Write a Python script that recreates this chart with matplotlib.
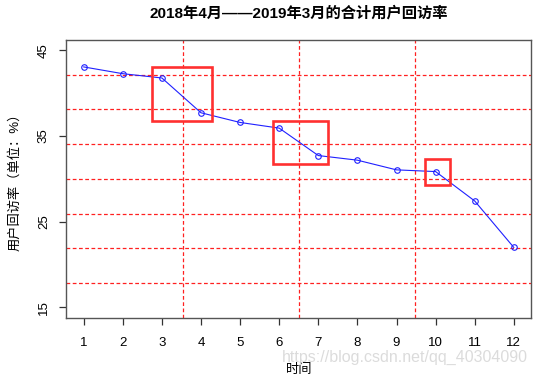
"""Monthly user revisit rate, Apr 2018 - Mar 2019."""
import matplotlib
matplotlib.use("Agg")
import matplotlib.pyplot as plt
from matplotlib.patches import Rectangle

plt.rcParams["font.family"] = ["Liberation Sans", "Noto Sans CJK SC", "DejaVu Sans"]

months = list(range(1, 13))
revisit_rate = [43.06, 42.27, 41.77, 37.71, 36.58, 35.92,
                32.72, 32.18, 31.05, 30.85, 27.42, 22.0]

# highlighted segments: (x0, y0, x1, y1)
box_x0 = [2.75, 5.85, 9.72]
box_y0 = [36.7, 31.7, 29.3]
box_x1 = [4.27, 7.26, 10.37]
box_y1 = [43.06, 36.78, 32.3]

y_ticks = [15, 25, 35, 45]

fig = plt.figure(figsize=(5.38, 3.76), dpi=100)
ax = fig.add_axes([0.1236, 0.155, 0.8634, 0.7386])

# R-style 4% axis padding
xlo, xhi = 1, 12
ylo, yhi = 15, 45
xpad = (xhi - xlo) * 0.04
ypad = (yhi - ylo) * 0.04
ax.set_xlim(xlo - xpad, xhi + xpad)
ax.set_ylim(ylo - ypad, yhi + ypad)

# grid(nx=4, ny=8) equivalent
x0, x1 = ax.get_xlim()
y0, y1 = ax.get_ylim()
for k in range(1, 4):
    ax.axvline(x0 + (x1 - x0) * k / 4, color="#ff2020", lw=0.9,
               linestyle=(0, (3, 2)), zorder=1)
for k in range(1, 8):
    ax.axhline(y0 + (y1 - y0) * k / 8, color="#ff2020", lw=0.9,
               linestyle=(0, (3, 2)), zorder=1)

ax.plot(months, revisit_rate, color="#2020ff", lw=0.8, marker="o",
        markersize=4, markerfacecolor="none", markeredgewidth=0.8, zorder=3)

for bx0, by0, bx1, by1 in zip(box_x0, box_y0, box_x1, box_y1):
    ax.add_patch(Rectangle((bx0, by0), bx1 - bx0, by1 - by0, fill=False,
                           edgecolor="#ff3030", lw=1.9, zorder=4))

ax.set_xticks(months)
ax.set_xticklabels([str(m) for m in months])
ax.set_yticks(y_ticks)
ax.set_yticklabels([str(t) for t in y_ticks], rotation=90, va="center")
ax.tick_params(axis="both", direction="out", length=5, width=0.9,
               colors="#333333", labelsize=9.5, labelcolor="black")
ax.tick_params(axis="x", pad=9)
ax.tick_params(axis="y", pad=7)
for s in ax.spines.values():
    s.set_color("#555555")
    s.set_linewidth(1.0)

fig.text(0.1236 + 0.8634 / 2, 1 - 13 / 376,
         "2018年4月——2019年3月的合计用户回访率", fontsize=11,
         fontweight="bold", ha="center", va="center")
ax.set_xlabel("时间", fontsize=9.5, labelpad=10)
ax.set_ylabel("用户回访率（单位：%）", fontsize=9.5, labelpad=12)

fig.text(0.982, 0.05, "https://blog.csdn.net/qq_40304090", ha="right",
         va="center", fontsize=11.5, color="#d8d8d8", alpha=0.9)

fig.savefig("out.png", dpi=100)
